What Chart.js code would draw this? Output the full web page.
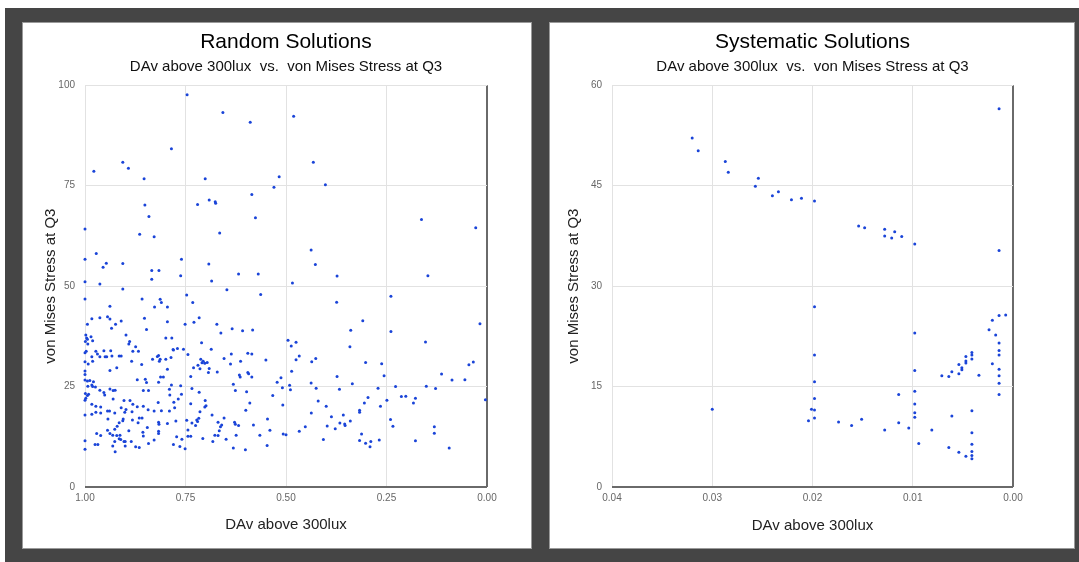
<!DOCTYPE html>
<html><head><meta charset="utf-8">
<script src="https://cdn.jsdelivr.net/npm/chart.js@4"></script>
<style>
html,body{margin:0;padding:0;background:#fff;width:1079px;height:562px;overflow:hidden;}
#bg{position:absolute;left:5px;top:8px;width:1074px;height:554px;background:#454545;}
.panel{position:absolute;background:#fff;box-shadow:0 0 0 1px #9a9a9a;}
canvas{display:block;}
</style></head><body>
<div id="bg"></div>
<div class="panel" style="left:23px;top:23px;width:508px;height:525px"><canvas id="c1" width="508" height="525"></canvas></div>
<div class="panel" style="left:550px;top:23px;width:524px;height:525px"><canvas id="c2" width="524" height="525"></canvas></div>
<script>
// ---------- DATA ----------
const randomDAv = [
0.746,0.657,0.589,0.785,0.906,0.892,0.978,0.853,0.701,0.517,0.530,0.585,0.720,0.851,0.691,0.676,0.675,0.841,0.576,1.000,0.864,0.828,0.665,0.972,1.000,0.760,0.947,0.906,0.692,0.955,0.834,0.816,0.618,0.569,0.834,0.762,1.000,0.963,0.685,0.906,0.647,
0.481,0.432,0.402,0.163,0.028,0.4375,0.427,0.373,0.147,0.484,
0.239,0.374,0.0175,0.309,0.339,0.239,0.495,0.475,0.487,0.153,0.341,0.467,0.475,0.426,0.436,0.302,0.262,0.034,0.045,0.486,0.113,0.256,0.373,0.5125,0.087,0.055,0.522,0.4375,0.335,0.491,0.509,0.489,0.425,0.367,0.271,0.2275,0.151,0.128,0.533,0.296,0.213,0.202,0.178,0.249,0.004,0.420,0.305,0.183,0.508,0.400,0.265,0.317,0.317,0.437,0.3575,0.387,0.340,0.366,0.354,0.353,0.240,0.3775,0.3975,0.452,0.234,0.131,0.131,0.467,0.507,0.500,0.312,0.407,0.317,0.302,0.289,0.291,0.268,0.178,0.094,
1.000,0.858,0.813,0.810,0.827,0.795,0.938,
0.983,0.963,0.944,0.938,0.924,0.910,0.934,0.994,0.852,0.847,0.795,0.898,0.998,0.996,0.994,0.999,0.985,0.981,0.993,0.889,0.891,0.874,0.881,0.867,0.799,0.784,0.780,1.000,0.997,0.973,0.969,0.953,0.936,0.963,0.950,0.946,0.933,0.915,0.910,0.983,0.981,1.000,0.992,0.884,0.859,0.832,0.820,0.817,0.813,0.815,0.799,0.786,0.795,0.921,0.938,1.000,1.000,1.000,0.994,0.988,0.979,0.983,0.993,0.974,0.981,0.963,0.953,0.938,0.930,0.925,0.999,0.994,0.991,0.998,1.000,0.983,0.973,0.961,0.930,0.951,0.903,0.888,0.870,0.850,0.847,0.817,0.805,0.812,0.785,0.855,0.842,0.790,0.789,0.779,0.777,0.818,0.881,0.898,0.910,0.901,0.883,0.870,0.855,0.843,0.828,0.810,0.790,1.000,0.983,0.973,0.961,0.944,0.939,0.926,0.943,0.920,0.915,0.905,0.906,0.882,0.891,0.868,0.865,0.858,0.845,0.856,0.855,0.817,0.816,0.817,0.817,0.795,0.828,0.842,0.780,1.000,1.000,0.975,0.968,0.971,0.961,0.944,0.938,0.931,0.926,0.921,0.913,0.915,0.911,0.926,0.931,0.925,0.903,0.900,0.900,0.885,0.874,0.865,
0.747,0.732,0.716,0.729,0.751,0.672,0.662,0.634,0.608,0.583,0.563,0.781,0.770,0.755,0.744,0.710,0.686,0.712,0.706,0.709,0.696,0.702,0.719,0.730,0.714,0.691,0.693,0.671,0.654,0.636,0.638,0.613,0.595,0.585,0.550,0.616,0.614,0.595,0.593,0.585,0.631,0.737,0.762,0.734,0.716,0.626,0.598,0.760,0.768,0.701,0.699,0.702,0.737,0.714,0.684,0.654,0.590,0.600,0.774,0.747,0.734,0.722,0.717,0.720,0.725,0.744,0.669,0.660,0.663,0.666,0.628,0.626,0.618,0.581,0.624,0.546,0.540,0.772,0.737,0.744,0.759,0.707,0.677,0.669,0.682,0.649,0.764,0.751,0.631,0.601,0.565,0.547
];
const randomStress = [
97.6,93.2,90.8,84.2,80.8,79.3,78.6,76.7,76.7,77.2,74.6,72.8,70.3,70.2,71.4,71.0,70.6,67.3,67.0,64.2,62.9,62.3,63.2,58.1,56.7,56.7,55.7,55.6,55.5,54.7,53.9,53.9,53.0,53.0,51.7,52.6,51.1,50.5,51.3,49.3,49.1,
92.3,80.8,75.2,66.6,64.5,59.0,55.4,52.5,52.6,50.8,
47.5,46.0,40.6,41.4,39.0,38.7,36.5,36.0,35.1,36.1,34.9,32.6,31.7,32.0,31.2,31.0,30.7,31.1,30.4,28.8,28.1,27.7,27.5,27.2,26.6,26.7,26.1,25.9,25.7,25.3,24.7,24.2,24.6,24.3,24.6,25.0,25.1,24.5,22.8,22.3,22.5,22.6,22.1,21.6,21.7,21.4,20.9,20.9,20.4,20.1,20.1,19.1,18.6,18.4,17.9,17.5,16.4,15.9,15.7,15.3,16.8,14.5,15.2,15.0,15.1,15.0,13.4,13.9,13.2,13.0,13.2,11.8,11.6,10.9,11.3,10.0,11.7,11.5,9.7,
46.8,46.8,46.7,45.9,44.8,44.8,45.0,
41.9,42.1,42.4,41.8,40.5,41.3,39.5,40.5,42.0,39.2,41.1,37.8,37.8,37.1,36.8,36.2,37.4,36.4,35.6,36.2,35.6,34.9,33.8,33.8,37.1,37.1,34.1,33.4,33.8,33.8,33.1,33.9,33.9,32.4,32.4,32.4,32.6,32.6,32.6,32.4,31.3,31.2,30.6,31.3,30.5,31.8,32.5,32.7,31.8,31.3,31.8,32.2,29.3,29.7,29.0,28.9,28.0,26.6,26.4,26.5,26.2,25.4,25.1,24.9,25.0,24.1,23.5,24.4,24.0,24.1,23.3,22.8,23.1,22.1,21.6,20.6,20.1,19.9,21.9,22.9,21.5,21.5,26.7,26.8,26.0,26.1,27.4,27.4,25.4,24.0,24.0,24.3,22.9,21.1,19.7,21.0,20.6,19.3,19.7,18.6,18.7,20.0,20.1,19.2,18.9,19.0,18.9,17.9,18.1,18.6,18.4,18.9,18.9,18.4,16.9,15.1,16.0,16.9,16.5,16.7,14.0,16.0,17.2,17.2,14.8,13.6,12.7,16.1,15.6,13.9,13.3,15.8,11.7,10.8,10.6,11.5,9.4,10.6,10.6,13.3,12.8,14.1,13.3,12.9,14.4,12.8,12.9,12.0,11.8,11.3,10.2,8.8,11.3,11.3,10.2,11.3,10.0,9.8,
47.8,45.9,42.1,41.0,40.5,40.5,38.3,39.4,38.9,39.1,47.9,34.2,34.5,34.3,33.0,35.9,34.3,31.8,31.3,30.9,31.0,30.8,30.3,29.7,29.4,29.5,28.5,28.6,32.0,33.1,30.6,31.3,33.3,33.1,31.6,27.9,27.4,28.5,28.2,27.4,25.6,27.5,25.2,24.5,23.6,24.0,23.7,23.1,21.9,21.5,20.2,19.9,20.7,18.7,17.9,17.2,20.9,19.1,16.4,16.6,15.9,16.7,17.1,16.3,15.3,14.2,16.1,15.4,15.0,14.0,16.1,15.6,15.3,15.4,12.9,16.9,14.1,12.5,12.6,12.6,11.9,12.1,12.9,12.8,11.3,11.9,10.1,9.5,9.7,9.3,12.9,10.3
];
const systematicDAv = [
0.0320,0.0314,0.0287,0.0284,0.0257,0.0254,0.0240,0.0234,0.0221,0.0211,
0.0198,0.0154,0.0148,0.0128,0.0128,0.0121,0.0118,0.0111,0.0098,0.00139,0.00139,0.0198,
0.0198,0.0198,0.0198,0.0201,0.0198,0.0198,0.0204,0.0174,0.0161,0.0151,0.0128,0.0114,0.0114,0.0104,
0.0098,0.0098,0.0098,0.0098,0.0098,0.0098,0.0094,0.0081,0.0071,0.0064,0.0061,0.0054,0.0054,0.0051,0.0051,
0.0047,0.0047,0.0047,0.0041,0.0041,0.0041,0.0034,0.0061,0.0041,0.0064,0.0054,0.0047,0.0041,0.0041,0.0041,0.0041,0.0041,
0.00239,0.00206,0.00139,0.00073,0.00173,0.00139,0.00139,0.00139,0.00206,0.00139,0.00139,0.00139,0.00139,
0.0300
];
const systematicStress = [
52.1,50.2,48.6,47.0,44.9,46.1,43.5,44.1,42.9,43.1,
42.7,38.96,38.7,38.5,37.5,37.2,38.1,37.4,36.3,56.5,35.3,26.9,
19.7,15.7,13.2,11.6,11.5,10.3,9.9,9.7,9.2,10.1,8.5,13.8,9.6,8.8,
23.0,17.4,14.3,12.4,11.1,10.4,6.5,8.5,16.6,16.5,17.2,16.9,18.3,17.8,17.5,
19.5,18.8,18.5,20.1,19.7,19.1,16.7,10.6,11.4,5.9,5.2,4.6,8.1,6.4,5.3,4.7,4.2,
23.5,24.9,25.6,25.7,22.7,21.5,20.4,19.7,18.4,17.6,16.6,15.5,13.8,
11.6
];
const randomXTicks = [0, 0.25, 0.5, 0.75, 1];
const randomYTicks = [0, 25, 50, 75, 100];
const systematicXTicks = [0, 0.01, 0.02, 0.03, 0.04];
const systematicYTicks = [0, 15, 30, 45, 60];
const subtitleText = 'DAv above 300lux  vs.  von Mises Stress at Q3';
const xAxisTitle = 'DAv above 300lux';
const yAxisTitle = 'von Mises Stress at Q3';

// ---------- CHARTS ----------
const FAMILY = "'Liberation Sans', Arial, sans-serif";
const POINT = '#1a44d8';

function makeChart(id, o) {
  const pts = o.xs.map((x, i) => ({x: x, y: o.ys[i]}));
  const gridColor = c => (c.tick && Math.abs(c.tick.value) < 1e-9) ? '#6a6a6a' : '#e2e2e2';
  const gridWidth = c => (c.tick && Math.abs(c.tick.value) < 1e-9) ? 2 : 1;
  new Chart(document.getElementById(id), {
    type: 'scatter',
    data: {datasets: [{data: pts, backgroundColor: POINT, borderWidth: 0, pointRadius: 1.5, pointHoverRadius: 1.5, clip: false}]},
    options: {
      responsive: false, animation: false, events: [],
      layout: {padding: {top: 0, left: 0, bottom: 0, right: o.rightPad}},
      plugins: {
        legend: {display: false}, tooltip: {enabled: false},
        title: {display: true, text: o.title, fullSize: false, color: '#000',
                font: {size: 21, family: FAMILY, weight: 'normal'}, padding: {top: 7, bottom: 0}},
        subtitle: {display: true, text: subtitleText, fullSize: false, color: '#111',
                font: {size: 15, family: FAMILY, weight: 'normal'}, padding: {top: 3, bottom: 9}}
      },
      scales: {
        x: {
          type: 'linear', reverse: true, min: Math.min(...o.xTicks), max: Math.max(...o.xTicks),
          afterBuildTicks: s => { s.ticks = o.xTicks.map(v => ({value: v})); },
          afterFit: s => { s.height = 61; },
          border: {display: false},
          grid: {color: gridColor, lineWidth: gridWidth, drawTicks: false},
          ticks: {padding: 5, color: '#666', font: {size: 10, family: FAMILY}, maxRotation: 0, autoSkip: false,
                  callback: v => Number(v).toFixed(2)},
          title: {display: true, text: xAxisTitle, color: '#222', font: {size: 15, family: FAMILY},
                  padding: {top: 0, bottom: o.xTitlePad}}
        },
        y: {
          type: 'linear', min: Math.min(...o.yTicks), max: Math.max(...o.yTicks),
          afterBuildTicks: s => { s.ticks = o.yTicks.map(v => ({value: v})); },
          afterFit: s => { s.width = 62; },
          border: {display: false},
          grid: {color: gridColor, lineWidth: gridWidth, drawTicks: false},
          ticks: {padding: 10, color: '#666', font: {size: 10, family: FAMILY}, autoSkip: false,
                  callback: v => String(v)},
          title: {display: true, text: yAxisTitle, color: '#222', font: {size: 15, family: FAMILY},
                  padding: {top: o.yTitlePad, bottom: 0}}
        }
      }
    }
  });
}

makeChart('c1', {title: 'Random Solutions', xs: randomDAv, ys: randomStress,
  xTicks: randomXTicks, yTicks: randomYTicks, rightPad: 44, xTitlePad: 14.5, yTitlePad: 18.5});
makeChart('c2', {title: 'Systematic Solutions', xs: systematicDAv, ys: systematicStress,
  xTicks: systematicXTicks, yTicks: systematicYTicks, rightPad: 61, xTitlePad: 13, yTitlePad: 14.5});
</script>
</body></html>
